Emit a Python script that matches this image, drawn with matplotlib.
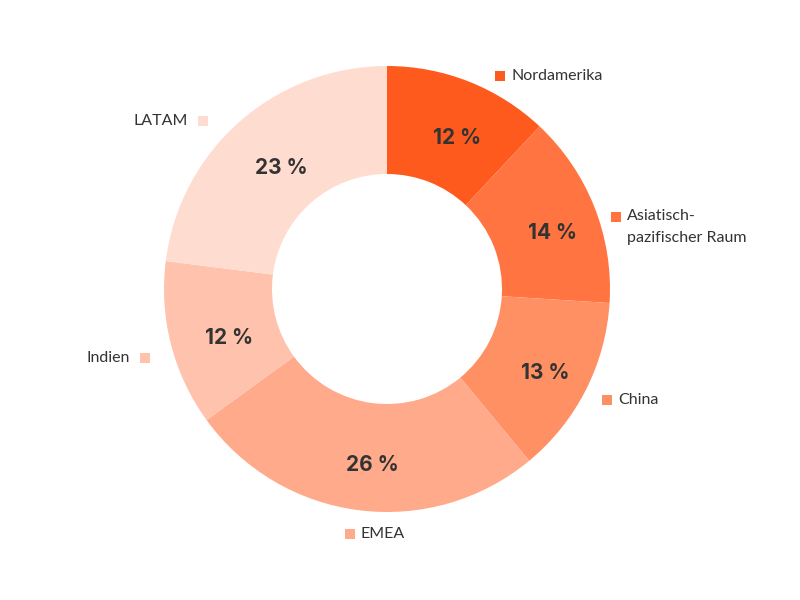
import numpy as np
import matplotlib
matplotlib.use("Agg")
import matplotlib.pyplot as plt
from matplotlib.patches import Rectangle

# Regional share of revenue
regions = ["Nordamerika", "Asiatisch-\npazifischer Raum", "China", "EMEA", "Indien", "LATAM"]
shares = [12, 14, 13, 26, 12, 23]
colors = ["#FF5A1E", "#FF7440", "#FF9063", "#FFAA8A", "#FFC2AC", "#FFDCD0"]

TEXT = "#333333"
W, H = 800, 600
cx, cy = 387, H - 289
R_OUT, R_IN = 223, 115

fig = plt.figure(figsize=(8, 6), dpi=100)
ax = fig.add_axes([0, 0, 1, 1])
ax.set_xlim(0, W)
ax.set_ylim(0, H)
ax.set_aspect("equal")
ax.axis("off")

wedges, _ = ax.pie(
    shares, colors=colors, startangle=90, counterclock=False,
    center=(cx, cy), radius=R_OUT,
    wedgeprops=dict(width=R_OUT - R_IN, linewidth=0),
)
ax.set_xlim(0, W)
ax.set_ylim(0, H)

# small layout nudges for the outer labels (pixels, x right / y down)
nudge = [(22, 18), (-2, 19), (-1, -2), (-6, -1), (-2, 7), (-20, 18)]

r_pct = (R_OUT + R_IN) / 2 + 1
r_lab = 248
sq = 10
LAB_FS = 11.5
for w, name, val, (nx, ny) in zip(wedges, regions, shares, nudge):
    mid_deg = ((w.theta1 + w.theta2) / 2) % 360
    mid = np.deg2rad(mid_deg)
    ux, uy = np.cos(mid), np.sin(mid)

    # percentage inside the ring
    ax.text(cx + r_pct * ux + 7, cy + r_pct * uy - 7, f"{val} %",
            ha="center", va="center", fontsize=15, fontweight="bold",
            family="Inter", color=TEXT)

    # outer label with a colour square
    ax_x = cx + r_lab * ux + nx
    ax_y = cy + r_lab * uy - ny
    ax.add_patch(Rectangle((ax_x - sq / 2, ax_y - sq / 2), sq, sq,
                           facecolor=w.get_facecolor(), linewidth=0))
    on_left = 90 < mid_deg < 270 and name != "EMEA"
    if on_left:
        ax.text(ax_x - 15, ax_y, name, ha="right", va="center",
                fontsize=LAB_FS, family="Lato", color=TEXT)
    else:
        if "\n" in name:
            ax.text(ax_x + 11, ax_y + 8, name, ha="left", va="top",
                    fontsize=LAB_FS, family="Lato", color=TEXT, linespacing=1.75)
        else:
            ax.text(ax_x + 11, ax_y, name, ha="left", va="center",
                    fontsize=LAB_FS, family="Lato", color=TEXT)

fig.savefig("out.png", dpi=100, facecolor="white")
